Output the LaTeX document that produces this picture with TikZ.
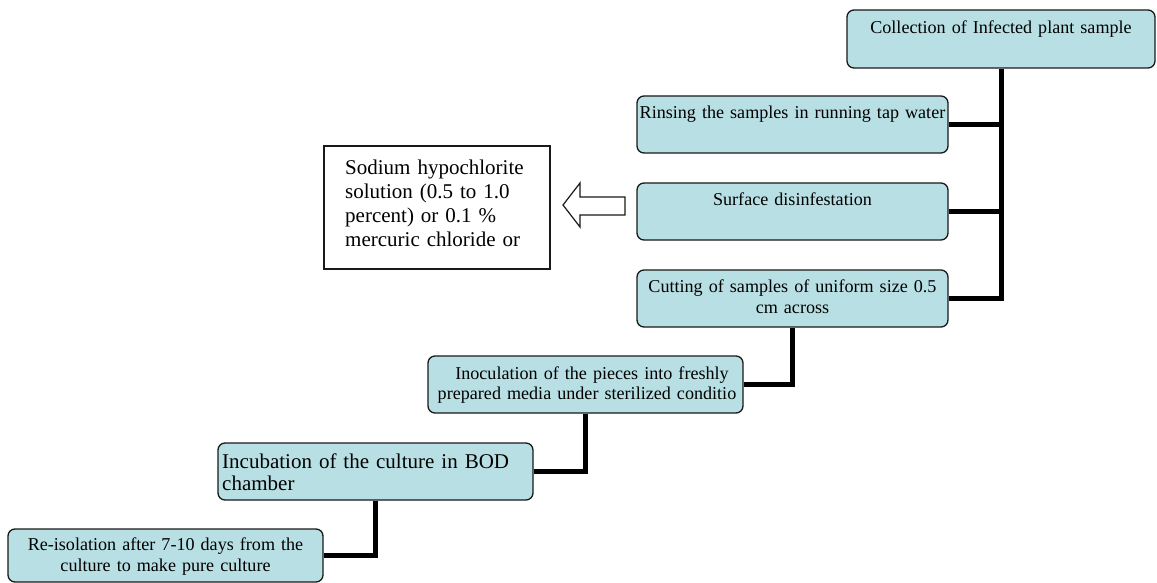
\documentclass[tikz,border=0pt]{standalone}
\usepackage{fontspec}
\setmainfont{Liberation Serif}
\definecolor{boxfill}{RGB}{184,224,228}
\begin{document}
\begin{tikzpicture}[x=1pt,y=-1pt,
  stepbox/.style={draw=black!90, fill=boxfill, rounded corners=7pt, line width=1.3pt, inner sep=0pt, minimum width=311pt, minimum height=57pt},
  conn/.style={line width=5pt, line join=miter, draw=black},
  txt/.style={inner sep=0pt, text width=340pt, align=center, font=\fontsize{18.1}{21.5}\selectfont},
  bigtxt/.style={inner sep=0pt, text width=320pt, align=left, font=\fontsize{21}{22.5}\selectfont},
  sodtxt/.style={inner sep=0pt, text width=205pt, align=left, font=\fontsize{21}{24}\selectfont},
  plainbox/.style={draw=black!90, line width=1.2pt, inner sep=0pt, fill=white},
  blockarrow/.style={draw=black!90, line width=1.2pt, fill=white, line join=miter}]
\useasboundingbox (0,0) rectangle (1157,583);

% boxes
\node[stepbox, minimum width=308pt, minimum height=58pt] (n1) at (1001,39) {};
\node[stepbox] (n2) at (792.5,124.5) {};
\node[stepbox] (n3) at (792.5,211.5) {};
\node[stepbox] (n4) at (792.5,298.5) {};
\node[stepbox, minimum width=315pt] (n5) at (585.5,384.5) {};
\node[stepbox, minimum width=315pt] (n6) at (375.5,471.5) {};
\node[stepbox, minimum width=315pt, minimum height=53pt] (n7) at (165.5,555.5) {};
\node[plainbox, minimum width=226pt, minimum height=123pt] (sod) at (437,207.5) {};

% connectors
\draw[conn] (n1.south) |- (n4.east);
\draw[conn] (n2.east) -- (n2.east -| n1.south);
\draw[conn] (n3.east) -- (n3.east -| n1.south);
\draw[conn] (n4.south) |- (n5.east);
\draw[conn] (n5.south) |- (n6.east);
\draw[conn] (n6.south) |- (n7.east);

% block arrow pointing to the solution box
\draw[blockarrow] (625,197) -- (580,197) -- (580,183) -- (563,205) -- (580,227) -- (580,215) -- (625,215) -- cycle;

% texts
\node[txt, anchor=base] (t1) at (1001,34) {Collection of Infected plant sample};
\node[txt, anchor=base] (t2) at (792.5,119) {Rinsing the samples in running tap water};
\node[txt, anchor=base] (t3) at (792.5,205) {Surface disinfestation};
\node[txt, anchor=base] (t4) at (792.5,292) {Cutting of samples of uniform size 0.5\\cm across};
\node[txt, anchor=base, font=\fontsize{18.1}{20.5}\selectfont] (t5) at (587,379) {\hspace*{10pt}Inoculation of the pieces into freshly\\prepared media under sterilized conditio};
\node[bigtxt, anchor=base west] (t6) at (222,468) {Incubation of the culture in BOD\\chamber};
\node[txt, anchor=base] (t7) at (165.5,550) {Re-isolation after 7-10 days from the\\culture to make pure culture};
\node[sodtxt, anchor=base west] (t8) at (345,175) {Sodium hypochlorite\\solution (0.5 to 1.0\\percent) or 0.1 \%\\mercuric chloride or};
\end{tikzpicture}
\end{document}
